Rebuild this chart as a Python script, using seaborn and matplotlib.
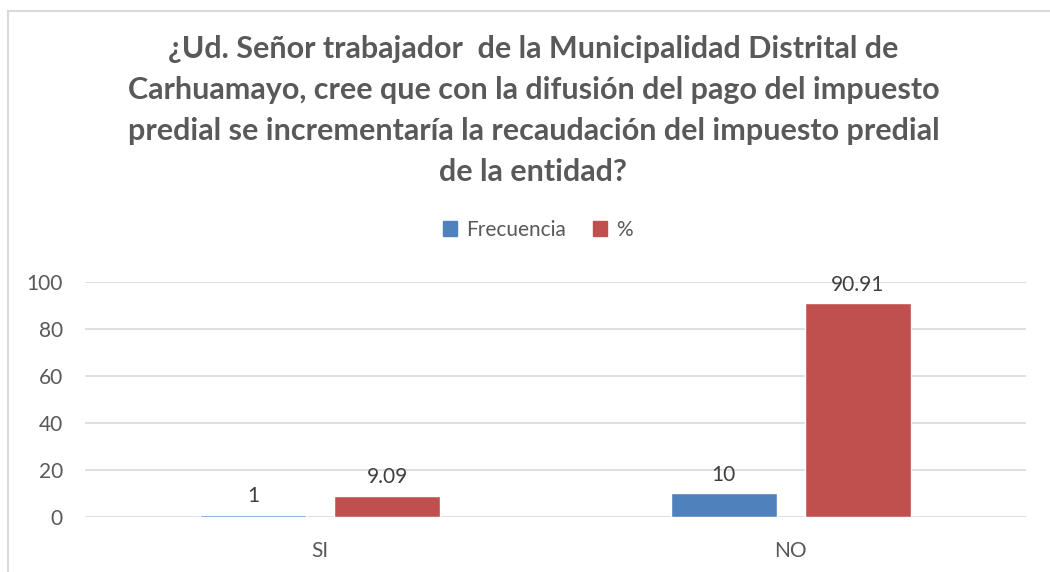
import pandas as pd
import matplotlib
matplotlib.use("Agg")
import matplotlib.pyplot as plt
import matplotlib.patches as mpatches
import seaborn as sns

# Data
categorias = ["SI", "NO"]
frecuencia = [1, 10]
porcentaje = [9.09, 90.91]
series = ["Frecuencia", "%"]
colores = ["#4F81BD", "#C0504D"]
yticks = [0, 20, 40, 60, 80, 100]

titulo = ("¿Ud. Señor trabajador  de la Municipalidad Distrital de\n"
          "Carhuamayo, cree que con la difusión del pago del impuesto\n"
          "predial se incrementaría la recaudación del impuesto predial\n"
          "de la entidad?")

df = pd.DataFrame({
    "categoria": categorias * 2,
    "serie": [series[0]] * len(categorias) + [series[1]] * len(categorias),
    "valor": frecuencia + porcentaje,
})

sns.set_style("white")
plt.rcParams["font.family"] = ["Lato", "DejaVu Sans"]

fig = plt.figure(figsize=(10.5, 5.72), dpi=100)
ax = fig.add_axes([0.081, 0.0962, 0.896, 0.411])

sns.barplot(data=df, x="categoria", y="valor", hue="serie",
            palette=colores, width=0.57, gap=0.21, ax=ax,
            saturation=1, legend=False)

ax.set_xlim(-0.5, 1.5)
ax.set_ylim(0, 100)
ax.set_yticks(yticks)
ax.yaxis.grid(True, color="#d9d9d9", linewidth=1.2)
ax.set_axisbelow(True)
for s in ax.spines.values():
    s.set_visible(False)
ax.set_xlabel("")
ax.set_ylabel("")
ax.tick_params(axis="y", length=0, pad=16, labelsize=15, labelcolor="#595959")
ax.tick_params(axis="x", length=0, pad=17, labelsize=15, labelcolor="#595959")

for cont, vals in zip(ax.containers, [frecuencia, porcentaje]):
    ax.bar_label(cont, labels=[f"{v:g}" for v in vals], padding=6,
                 fontsize=15, color="#404040")

fig.suptitle(titulo, x=0.508, y=1 - 35 / 572, fontsize=22, fontweight="bold",
             color="#595959", linespacing=1.56, va="top")

handles = [mpatches.Patch(color=c, label=s) for c, s in zip(colores, series)]
fig.legend(handles=handles, loc="center", bbox_to_anchor=(0.512, 1 - 230 / 572),
           ncol=2, frameon=False, fontsize=15, handlelength=0.7,
           handleheight=0.7, handletextpad=0.4, columnspacing=1.3,
           labelcolor="#595959")

# outer chart border (light gray), cut off at the right and bottom
fig.patches.append(mpatches.Rectangle((8 / 1050, -0.1), 1.2, 1.1 - 11 / 572,
                                      transform=fig.transFigure, fill=False,
                                      edgecolor="#d9d9d9", linewidth=1.5))

fig.savefig("out.png", dpi=100)
